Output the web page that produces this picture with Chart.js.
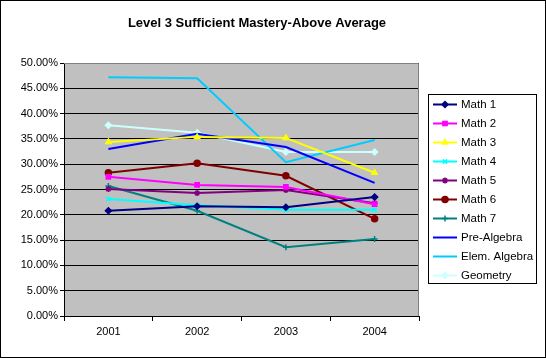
<!DOCTYPE html>
<html>
<head>
<meta charset="utf-8">
<script src="https://cdn.jsdelivr.net/npm/chart.js@4"></script>
<style>
  html, body { margin: 0; padding: 0; background: #fff; }
  #wrap { width: 546px; height: 358px; }
</style>
</head>
<body>
<div id="wrap"><canvas id="chart" width="546" height="358"></canvas></div>
<script>
const chartTitle = 'Level 3 Sufficient Mastery-Above Average';
const years = ['2001', '2002', '2003', '2004'];

const math1 = [20.8, 21.7, 21.5, 23.5];
const math2 = [27.5, 25.9, 25.5, 22.1];
const math3 = [34.4, 35.4, 35.2, 28.3];
const math4 = [23.1, 21.9, 21.0, 21.0];
const math5 = [25.1, 24.3, 24.9, 22.3];
const math6 = [28.3, 30.2, 27.7, 19.2];
const math7 = [25.7, 20.8, 13.6, 15.2];
const preAlgebra = [33.0, 36.0, 33.4, 26.3];
const elemAlgebra = [47.2, 47.0, 30.4, 34.8];
const geometry = [37.7, 36.2, 32.4, 32.4];

const seriesNames = ['Math 1', 'Math 2', 'Math 3', 'Math 4', 'Math 5', 'Math 6', 'Math 7', 'Pre-Algebra', 'Elem. Algebra', 'Geometry'];
const seriesData = [math1, math2, math3, math4, math5, math6, math7, preAlgebra, elemAlgebra, geometry];
const seriesColors = ['#000080', '#FF00FF', '#FFFF00', '#00FFFF', '#800080', '#800000', '#008080', '#0000FF', '#00CCFF', '#CCFFFF'];
const seriesMarkers = ['rectRot', 'rect', 'triangle', 'crossRot', 'star', 'circle', 'cross', false, false, 'rectRot'];

const FONT = 'Arial, "Liberation Sans", sans-serif';

const datasets = seriesNames.map((name, i) => ({
    label: name,
    data: seriesData[i],
    borderColor: seriesColors[i],
    backgroundColor: seriesColors[i],
    borderWidth: 2,
    pointStyle: seriesMarkers[i],
    pointRadius: seriesMarkers[i] ? 3 : 0,
    pointBorderWidth: 1.5,
    tension: 0
}));

// plot background, frame, title and boxed legend
const excelLook = {
    id: 'excelLook',
    beforeDraw(chart) {
        const {ctx, chartArea: a} = chart;
        ctx.save();
        ctx.fillStyle = '#fff';
        ctx.fillRect(0, 0, chart.width, chart.height);
        ctx.fillStyle = '#C0C0C0';
        ctx.fillRect(a.left, a.top, a.right - a.left, a.bottom - a.top);
        ctx.restore();
    },
    afterDraw(chart) {
        const {ctx, chartArea: a} = chart;
        ctx.save();
        // gray plot frame top/right
        ctx.strokeStyle = '#808080';
        ctx.lineWidth = 1;
        ctx.beginPath();
        ctx.moveTo(a.left, a.top + 0.5);
        ctx.lineTo(a.right - 0.5, a.top + 0.5);
        ctx.lineTo(a.right - 0.5, a.bottom);
        ctx.stroke();

        // outer border
        ctx.strokeStyle = '#000';
        ctx.strokeRect(0.5, 0.5, chart.width - 1, chart.height - 1);

        // title
        ctx.fillStyle = '#000';
        ctx.font = 'bold 13px ' + FONT;
        ctx.textAlign = 'center';
        ctx.textBaseline = 'middle';
        ctx.fillText(chartTitle, 257, 23);

        // legend
        const lx = 428, ly = 94, lw = 108, lh = 189;
        ctx.fillStyle = '#fff';
        ctx.fillRect(lx, ly, lw, lh);
        ctx.strokeStyle = '#000';
        ctx.strokeRect(lx + 0.5, ly + 0.5, lw, lh);
        ctx.font = '11.5px ' + FONT;
        ctx.textAlign = 'left';
        chart.data.datasets.forEach((ds, i) => {
            const y = 104.5 + i * 19;
            ctx.strokeStyle = ds.borderColor;
            ctx.lineWidth = 2;
            ctx.beginPath();
            ctx.moveTo(433, y);
            ctx.lineTo(457, y);
            ctx.stroke();
            if (ds.pointStyle) {
                ctx.fillStyle = ds.backgroundColor;
                ctx.strokeStyle = ds.borderColor;
                ctx.lineWidth = 1.5;
                Chart.helpers.drawPoint(ctx, {
                    pointStyle: ds.pointStyle, radius: 3, borderWidth: 1.5, rotation: 0
                }, 445, y);
            }
            ctx.fillStyle = '#000';
            ctx.fillText(ds.label, 461, y + 0.5);
        });
        ctx.restore();
    }
};

new Chart(document.getElementById('chart'), {
    type: 'line',
    data: { labels: years, datasets },
    plugins: [excelLook],
    options: {
        responsive: false,
        animation: false,
        layout: { padding: { top: 63, right: 127, left: 0, bottom: 0 } },
        plugins: {
            legend: { display: false },
            title: { display: false },
            tooltip: { enabled: false }
        },
        scales: {
            x: {
                offset: true,
                grid: { offset: true, drawOnChartArea: false, drawTicks: true, tickLength: 5, color: '#000' },
                border: { color: '#000', width: 1 },
                ticks: { color: '#000', font: { family: FONT, size: 11 }, padding: 4, maxRotation: 0 },
                afterFit(s) { s.height = 42; }
            },
            y: {
                min: 0,
                max: 50,
                grid: { color: '#000', drawTicks: true, tickLength: 4 },
                border: { color: '#000', width: 1 },
                ticks: {
                    stepSize: 5,
                    color: '#000',
                    padding: 2,
                    font: { family: FONT, size: 11 },
                    callback: v => v.toFixed(2) + '%'
                },
                afterFit(s) { s.width = 64; }
            }
        }
    }
});
</script>
</body>
</html>
